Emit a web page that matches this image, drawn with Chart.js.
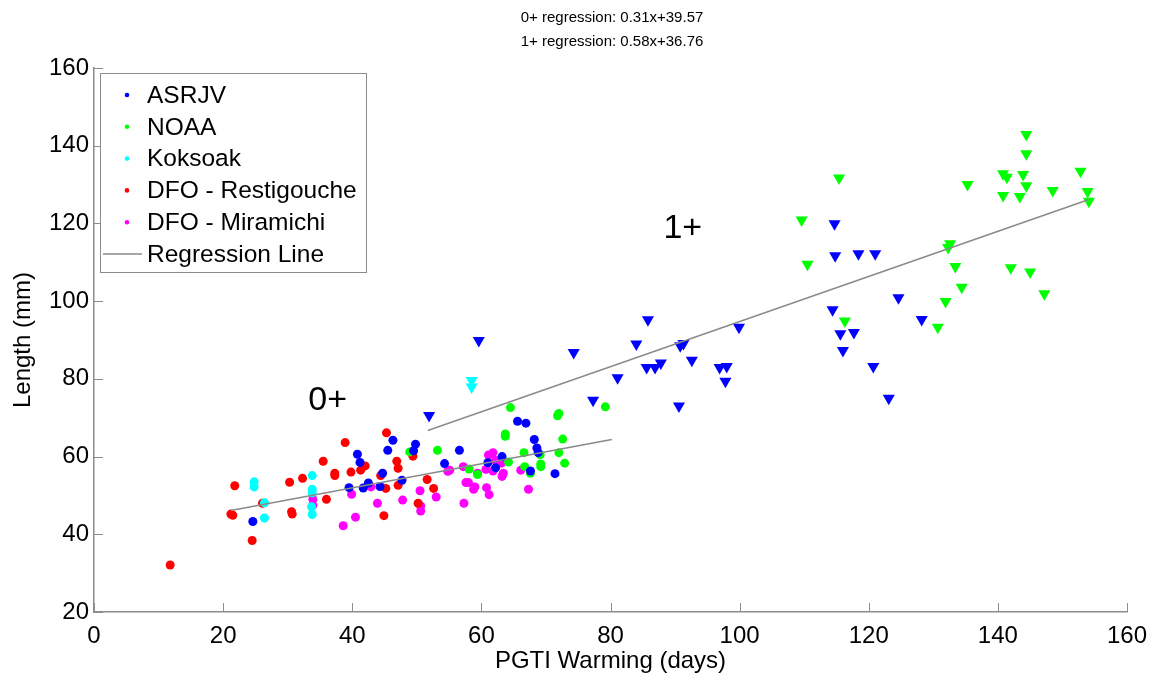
<!DOCTYPE html>
<html>
<head>
<meta charset="utf-8">
<script src="https://cdn.jsdelivr.net/npm/chart.js@4.4.0/dist/chart.umd.min.js"></script>
<style>
  html, body { margin: 0; padding: 0; background: #fff; }
</style>
</head>
<body>
<canvas id="chart" width="1153" height="676"></canvas>
<script>
// ---- data ----
const seriesNames = ['ASRJV', 'NOAA', 'Koksoak', 'DFO - Restigouche', 'DFO - Miramichi'];
const seriesColors = ['#0000ff', '#00ff00', '#00ffff', '#ff0000', '#ff00ff'];

// ASRJV
const asrjv0X = [24.6, 39.5, 40.8, 41.2, 41.7, 42.5, 44.3, 44.7, 45.5, 46.3, 49.8, 49.5, 47.7, 54.3, 56.6, 61.0, 62.2, 63.2, 65.6, 66.9, 68.2, 68.6, 68.8, 67.6, 71.4];
const asrjv0Y = [43.3, 52.0, 60.6, 58.5, 51.9, 53.2, 52.3, 55.7, 61.6, 64.2, 63.2, 61.5, 53.9, 58.2, 61.6, 58.4, 57.1, 60.0, 69.1, 68.6, 64.4, 62.2, 61.0, 56.3, 55.6];
const asrjv1X = [51.9, 59.6, 74.3, 77.3, 81.1, 84.0, 85.8, 85.6, 86.9, 87.8, 90.6, 90.8, 91.3, 92.6, 96.9, 98.0, 97.8, 99.9, 114.7, 114.8, 118.4, 114.4, 115.6, 117.7, 116.0, 121.0, 124.6, 128.2, 120.7, 123.1];
const asrjv1Y = [70.6, 89.9, 86.8, 74.5, 80.3, 89.0, 95.2, 82.9, 82.9, 84.1, 73.0, 88.5, 89.1, 84.8, 82.9, 83.2, 79.4, 93.3, 119.9, 111.7, 112.2, 97.8, 91.6, 91.9, 87.3, 112.2, 100.9, 95.3, 83.2, 75.0];

// NOAA
const noaa0X = [48.9, 53.2, 58.1, 59.4, 64.5, 71.8, 72.0, 63.7, 63.7, 72.6, 66.6, 69.1, 72.0, 64.2, 66.7, 69.2, 69.2, 72.9, 67.6, 79.2];
const noaa0Y = [61.2, 61.6, 56.8, 55.4, 72.6, 70.5, 71.1, 65.8, 65.2, 64.5, 61.0, 60.5, 61.0, 58.6, 57.4, 58.1, 57.4, 58.3, 55.7, 72.8];
const noaa1X = [144.4, 144.4, 140.8, 141.4, 143.9, 144.4, 140.8, 143.4, 148.5, 152.8, 153.9, 154.1, 135.3, 132.6, 132.3, 133.4, 134.4, 131.9, 130.7, 142.0, 145.0, 147.2, 115.4, 109.6, 110.5, 116.3];
const noaa1Y = [142.9, 137.9, 132.8, 131.9, 132.6, 129.7, 127.2, 126.9, 128.5, 133.4, 128.2, 125.7, 130.0, 114.8, 113.8, 108.9, 103.6, 99.9, 93.3, 108.6, 107.5, 101.9, 131.7, 120.9, 109.5, 94.9];

// Koksoak
const koksoak0X = [24.8, 24.8, 26.4, 26.4, 33.8, 33.8, 33.8, 33.7, 33.8];
const koksoak0Y = [53.5, 52.2, 48.1, 44.2, 55.1, 51.6, 50.7, 47.1, 45.1];
const koksoak1X = [58.5, 58.5];
const koksoak1Y = [79.6, 77.9];

// DFO - Restigouche
const restigX = [11.8, 21.8, 21.2, 21.5, 24.5, 26.1, 30.3, 30.6, 30.7, 32.3, 35.5, 36.0, 37.3, 37.3, 38.9, 39.8, 41.3, 42.0, 44.4, 44.9, 45.2, 45.3, 46.9, 47.1, 49.4, 47.1, 51.6, 52.6, 50.2];
const restigY = [32.1, 52.5, 45.2, 44.9, 38.4, 48.0, 53.4, 45.8, 45.2, 54.4, 58.8, 49.0, 55.7, 55.1, 63.6, 56.0, 56.5, 57.6, 55.1, 44.8, 51.8, 66.1, 58.8, 57.0, 60.1, 52.6, 54.1, 51.8, 48.0];

// DFO - Miramichi
const miramX = [39.9, 33.9, 33.9, 38.6, 40.5, 42.9, 43.9, 47.8, 50.5, 50.6, 50.6, 53.0, 54.8, 55.1, 57.2, 57.3, 57.6, 58.0, 58.8, 59.0, 59.4, 60.7, 60.8, 61.2, 61.1, 61.8, 61.8, 62.2, 63.1, 63.4, 63.2, 66.1, 67.3];
const miramY = [50.3, 49.0, 47.5, 42.2, 44.4, 52.2, 48.0, 48.8, 51.2, 47.3, 46.0, 49.6, 56.2, 56.5, 57.4, 48.0, 53.3, 53.3, 51.6, 52.2, 55.7, 56.7, 52.0, 50.2, 60.4, 61.0, 56.3, 59.0, 58.3, 55.7, 54.9, 56.5, 51.6];

// regression line end points
const reg0X = [21.2, 80.2];
const reg0Y = [46.1, 64.4];
const reg1X = [51.7, 154.0];
const reg1Y = [66.7, 126.1];

const xTicks = [0, 20, 40, 60, 80, 100, 120, 140, 160];
const yTicks = [20, 40, 60, 80, 100, 120, 140, 160];
const headline = ['0+ regression: 0.31x+39.57', '1+ regression: 0.58x+36.76'];
const groupLabels = [{ text: '0+', x: 36.2, y: 74.5 }, { text: '1+', x: 91.2, y: 118.7 }];

const FONT = '"Liberation Sans", Arial, sans-serif';

function pts(xs, ys) {
    return xs.map((x, i) => ({ x: x, y: ys[i] }));
}

function dots(label, xs, ys, color) {
    return {
        label: label, data: pts(xs, ys),
        pointStyle: 'circle', pointRadius: 4.5, pointHoverRadius: 4.5,
        backgroundColor: color, borderColor: color, borderWidth: 0, order: 2
    };
}

function tris(label, xs, ys, color) {
    return {
        label: label, data: pts(xs, ys),
        pointStyle: 'triangle', rotation: 180, pointRadius: 7, pointHoverRadius: 7,
        backgroundColor: color, borderColor: color, borderWidth: 0, order: 2
    };
}

function regLine(xs, ys) {
    return {
        label: 'Regression Line', data: pts(xs, ys), showLine: true,
        pointRadius: 0, borderColor: '#8a8a8a', borderWidth: 1.5, order: 1
    };
}

const datasets = [
    dots(seriesNames[0], asrjv0X, asrjv0Y, seriesColors[0]),
    tris(seriesNames[0], asrjv1X, asrjv1Y, seriesColors[0]),
    dots(seriesNames[1], noaa0X, noaa0Y, seriesColors[1]),
    tris(seriesNames[1], noaa1X, noaa1Y, seriesColors[1]),
    dots(seriesNames[2], koksoak0X, koksoak0Y, seriesColors[2]),
    tris(seriesNames[2], koksoak1X, koksoak1Y, seriesColors[2]),
    dots(seriesNames[3], restigX, restigY, seriesColors[3]),
    dots(seriesNames[4], miramX, miramY, seriesColors[4]),
    regLine(reg0X, reg0Y),
    regLine(reg1X, reg1Y)
];

// ticks inside the axes, header text, group labels and the boxed legend
const extras = {
    id: 'extras',
    afterDraw(chart) {
        const ctx = chart.ctx;
        const xs = chart.scales.x, ys = chart.scales.y;
        const area = chart.chartArea;
        ctx.save();

        ctx.strokeStyle = '#8c8c8c';
        ctx.lineWidth = 1;
        xTicks.forEach(v => {
            const p = Math.round(xs.getPixelForValue(v)) + 0.5;
            ctx.beginPath(); ctx.moveTo(p, area.bottom); ctx.lineTo(p, area.bottom - 9); ctx.stroke();
        });
        yTicks.forEach(v => {
            const p = Math.round(ys.getPixelForValue(v)) + 0.5;
            ctx.beginPath(); ctx.moveTo(area.left, p); ctx.lineTo(area.left + 9, p); ctx.stroke();
        });

        ctx.fillStyle = '#000';
        ctx.textAlign = 'center';
        ctx.textBaseline = 'middle';
        ctx.font = '15px ' + FONT;
        headline.forEach((t, i) => ctx.fillText(t, 612, 18 + i * 24));

        ctx.font = '34px ' + FONT;
        groupLabels.forEach(g => ctx.fillText(g.text, xs.getPixelForValue(g.x), ys.getPixelForValue(g.y)));

        // legend
        const bx = 100, by = 73, bw = 266, bh = 199;
        ctx.fillStyle = '#fff';
        ctx.fillRect(bx, by, bw, bh);
        ctx.strokeStyle = '#8c8c8c';
        ctx.strokeRect(bx + 0.5, by + 0.5, bw, bh);
        ctx.font = '24.5px ' + FONT;
        ctx.textAlign = 'left';
        const rows = seriesNames.concat(['Regression Line']);
        rows.forEach((name, i) => {
            const cy = by + 22 + i * 31.8;
            if (i < seriesNames.length) {
                ctx.fillStyle = seriesColors[i];
                ctx.beginPath(); ctx.arc(127, cy, 2.3, 0, Math.PI * 2); ctx.fill();
            } else {
                ctx.strokeStyle = '#8a8a8a';
                ctx.lineWidth = 1.5;
                ctx.beginPath(); ctx.moveTo(103, cy); ctx.lineTo(142, cy); ctx.stroke();
            }
            ctx.fillStyle = '#000';
            ctx.fillText(name, 147, cy + 1);
        });

        ctx.restore();
    }
};

const ctx = document.getElementById('chart').getContext('2d');
const myChart = new Chart(ctx, {
    type: 'scatter',
    data: { datasets: datasets },
    options: {
        responsive: false,
        animation: false,
        layout: { padding: { top: 68, right: 26, left: 0, bottom: 0 } },
        plugins: {
            legend: { display: false },
            tooltip: { enabled: false }
        },
        scales: {
            x: {
                type: 'linear', min: 0, max: 160,
                grid: { display: false, drawTicks: false },
                border: { display: true, color: '#8c8c8c', width: 1.5 },
                ticks: { stepSize: 20, color: '#000', padding: 10, font: { family: FONT, size: 24 } },
                title: {
                    display: true, text: 'PGTI Warming (days)', color: '#000',
                    font: { family: FONT, size: 24 }, padding: { top: 0, bottom: 0 }
                },
                afterFit: s => { s.height = 64; s.paddingLeft = 0; s.paddingRight = 0; }
            },
            y: {
                type: 'linear', min: 20, max: 160,
                grid: { display: false, drawTicks: false },
                border: { display: true, color: '#8c8c8c', width: 1.5 },
                ticks: { stepSize: 20, color: '#000', padding: 5, font: { family: FONT, size: 24 } },
                title: {
                    display: true, text: 'Length (mm)', color: '#000',
                    font: { family: FONT, size: 24 }, padding: { top: 9, bottom: 0 }
                },
                afterFit: s => { s.width = 94; s.paddingTop = 0; s.paddingBottom = 0; }
            }
        }
    },
    plugins: [extras]
});
</script>
</body>
</html>
